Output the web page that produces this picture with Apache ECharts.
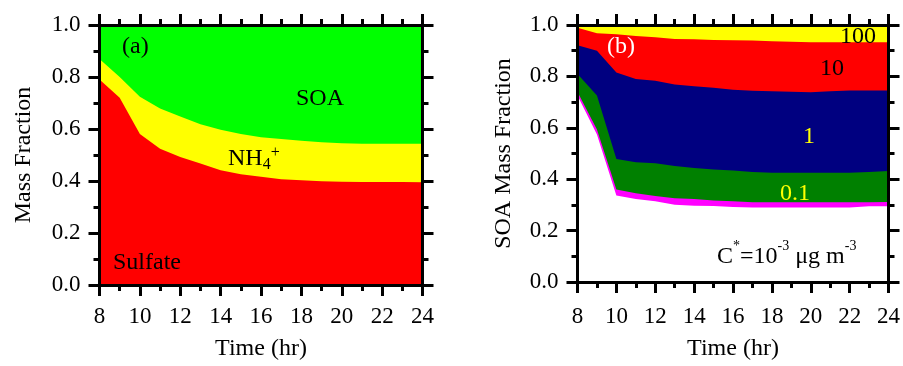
<!DOCTYPE html>
<html>
<head>
<meta charset="utf-8">
<script src="https://cdn.jsdelivr.net/npm/echarts@6/dist/echarts.min.js"></script>
<style>
    html, body { margin: 0; padding: 0; background: #fff; }
    #main { width: 903px; height: 366px; }
</style>
</head>
<body>
<div id="main"></div>
<script>
// time axis (hr)
var hours = [8, 9, 10, 11, 12, 13, 14, 15, 16, 17, 18, 19, 20, 21, 22, 23, 24];

// (a) upper edge of each stacked layer (cumulative mass fraction)
var sulfateTop = [0.790, 0.720, 0.581, 0.524, 0.492, 0.467, 0.441, 0.426, 0.416, 0.407, 0.403, 0.399, 0.397, 0.396, 0.396, 0.396, 0.395];
var nh4Top     = [0.869, 0.800, 0.724, 0.679, 0.648, 0.618, 0.597, 0.581, 0.568, 0.562, 0.555, 0.549, 0.545, 0.543, 0.543, 0.543, 0.543];
var soaTop     = [1, 1, 1, 1, 1, 1, 1, 1, 1, 1, 1, 1, 1, 1, 1, 1, 1];

// (b) upper edge of each volatility bin (cumulative SOA mass fraction)
var bin100Top   = [1, 1, 1, 1, 1, 1, 1, 1, 1, 1, 1, 1, 1, 1, 1, 1, 1];
var bin10Top    = [0.989, 0.968, 0.964, 0.957, 0.952, 0.946, 0.945, 0.942, 0.941, 0.940, 0.937, 0.935, 0.933, 0.933, 0.933, 0.933, 0.933];
var bin1Top     = [0.921, 0.900, 0.815, 0.790, 0.783, 0.768, 0.762, 0.756, 0.748, 0.744, 0.742, 0.740, 0.738, 0.742, 0.745, 0.745, 0.745];
var bin01Top    = [0.809, 0.726, 0.479, 0.466, 0.462, 0.451, 0.444, 0.438, 0.434, 0.428, 0.425, 0.425, 0.425, 0.425, 0.425, 0.428, 0.432];
var bin001Top   = [0.739, 0.593, 0.360, 0.345, 0.335, 0.326, 0.323, 0.317, 0.314, 0.310, 0.310, 0.310, 0.310, 0.310, 0.310, 0.310, 0.311];
var bin0001Top  = [0.726, 0.574, 0.337, 0.323, 0.314, 0.301, 0.297, 0.296, 0.292, 0.290, 0.290, 0.290, 0.290, 0.290, 0.290, 0.295, 0.295];

var FONT = 'Liberation Serif';

function pairs(vals) {
    var out = [];
    for (var i = 0; i < hours.length; i++) {
        out.push([hours[i], vals[i]]);
    }
    return out;
}

function area(name, vals, color, gi) {
    return {
        name: name,
        type: 'line',
        xAxisIndex: gi * 2,
        yAxisIndex: gi * 2,
        data: pairs(vals),
        showSymbol: false,
        silent: true,
        lineStyle: { width: 0 },
        areaStyle: { color: color, opacity: 1 }
    };
}

function xAx(gi, pos, labelMargin, nameGap) {
    var main = pos === 'bottom';
    return {
        type: 'value',
        gridIndex: gi,
        position: pos,
        min: 8,
        max: 24,
        interval: 2,
        z: 10,
        name: main ? 'Time (hr)' : '',
        nameLocation: 'middle',
        nameGap: nameGap,
        nameTextStyle: { fontFamily: FONT, fontSize: 24, color: '#000' },
        axisLine: { show: true, onZero: false, lineStyle: { color: '#000', width: 3 } },
        axisTick: { show: true, length: 11, lineStyle: { color: '#000', width: 3 } },
        minorTick: { show: true, splitNumber: 2, length: 6, lineStyle: { color: '#000', width: 3 } },
        axisLabel: { show: main, margin: labelMargin, fontFamily: FONT, fontSize: 23, color: '#000' },
        splitLine: { show: false }
    };
}

function yAx(gi, pos, name, nameGap) {
    var main = pos === 'left';
    return {
        type: 'value',
        gridIndex: gi,
        position: pos,
        min: 0,
        max: 1,
        interval: 0.2,
        z: 10,
        name: main ? name : '',
        nameLocation: 'middle',
        nameGap: nameGap,
        nameTextStyle: { fontFamily: FONT, fontSize: 24, color: '#000' },
        axisLine: { show: true, onZero: false, lineStyle: { color: '#000', width: 3 } },
        axisTick: { show: true, length: 11, lineStyle: { color: '#000', width: 3 } },
        minorTick: { show: true, splitNumber: 2, length: 6, lineStyle: { color: '#000', width: 3 } },
        axisLabel: {
            show: main, margin: 19, fontFamily: FONT, fontSize: 23, color: '#000',
            formatter: function (v) { return v.toFixed(1); }
        },
        splitLine: { show: false }
    };
}

function label(x, y, text, color, rich) {
    return {
        type: 'text',
        x: x,
        y: y,
        z: 100,
        silent: true,
        style: {
            text: text,
            fontFamily: FONT,
            fontSize: 24,
            fill: color,
            align: 'left',
            verticalAlign: 'middle',
            rich: rich
        }
    };
}

var myChart = echarts.init(document.getElementById('main'), null, { renderer: 'canvas' });

var supRich = {
    n: { fontFamily: FONT, fontSize: 24, color: '#000' },
    sub: { fontFamily: FONT, fontSize: 16, color: '#000', verticalAlign: 'bottom', padding: [12, 0, 0, 0] },
    sup: { fontFamily: FONT, fontSize: 16, color: '#000', verticalAlign: 'top', padding: [0, 0, 12, 0] }
};
var cRich = {
    n: { fontFamily: FONT, fontSize: 24, color: '#000' },
    sup: { fontFamily: FONT, fontSize: 14, color: '#000', verticalAlign: 'top', padding: [0, 0, 22, 0] }
};

var option = {
    animation: false,
    backgroundColor: '#fff',
    grid: [
        { left: 99.5, top: 25, width: 323, height: 262.5 },
        { left: 577.5, top: 25, width: 323, height: 262.5 }
    ],
    xAxis: [
        xAx(0, 'bottom', 20, 52), xAx(0, 'top', 0, 0),
        xAx(1, 'bottom', 23, 55), xAx(1, 'top', 0, 0)
    ],
    yAxis: [
        yAx(0, 'left', 'Mass Fraction', 64), yAx(0, 'right', '', 0),
        yAx(1, 'left', 'SOA Mass Fraction', 62), yAx(1, 'right', '', 0)
    ],
    series: [
        area('SOA', soaTop, '#00ff00', 0),
        area('NH4+', nh4Top, '#ffff00', 0),
        area('Sulfate', sulfateTop, '#ff0000', 0),

        area('100', bin100Top, '#ffff00', 1),
        area('10', bin10Top, '#ff0000', 1),
        area('1', bin1Top, '#000080', 1),
        area('0.1', bin01Top, '#008000', 1),
        area('0.01', bin001Top, '#ff00ff', 1),
        area('0.001', bin0001Top, '#ffffff', 1)
    ],
    graphic: [
        label(122, 47, '(a)', '#000'),
        label(296, 99, 'SOA', '#000'),
        label(228, 159, '{n|NH}{sub|4}{sup|+}', '#000', supRich),
        label(113, 263, 'Sulfate', '#000'),

        label(607, 47, '(b)', '#fff'),
        label(840, 37, '100', '#000'),
        label(820, 69, '10', '#000'),
        label(803, 137, '1', '#ffff00'),
        label(780, 194, '0.1', '#ffff00'),
        label(717, 257, '{n|C}{sup|*}{n|=10}{sup|-3}{n| \u03bcg m}{sup|-3}', '#000', cRich)
    ]
};

myChart.setOption(option);
window.addEventListener('resize', function () {
    myChart.resize();
});
</script>
</body>
</html>
